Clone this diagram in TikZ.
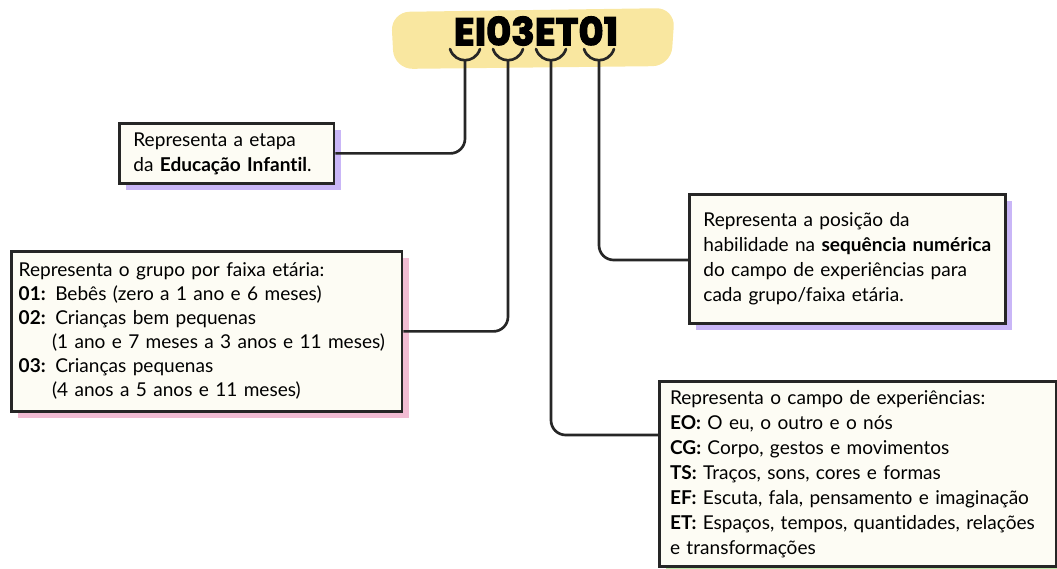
\documentclass[tikz,border=0pt]{standalone}
\usepackage{fontspec}
\setmainfont{Lato}[Ligatures=NoCommon]
\newfontfamily\titlefont[BoldFeatures={FakeBold=3}]{Poppins}
\usetikzlibrary{shadows}

\definecolor{hlyellow}{HTML}{F9E7A0}
\definecolor{boxfill}{HTML}{FDFCF4}
\definecolor{boxline}{HTML}{262626}
\definecolor{shpurple}{HTML}{C9B6F7}
\definecolor{shpink}{HTML}{F2BCD3}
\definecolor{shgreen}{HTML}{BDEBA8}

\tikzset{
	box/.style={draw=boxline, line width=2.1pt, fill=boxfill, anchor=north west,
		align=left, inner ysep=0pt, font=\fontsize{14.3}{18.75}\selectfont},
	boxshadow/.style={drop shadow={shadow xshift=5pt, shadow yshift=-5pt, fill=#1, opacity=1}},
	link/.style={line width=2pt, boxline, rounded corners=11pt},
}

\begin{document}
\begin{tikzpicture}[x=0.75pt, y=-0.75pt]
	
	\useasboundingbox (0,0) rectangle (1057,568);
	
	% code highlight
	\fill[hlyellow, rounded corners=14pt] (391,12) -- (675,8) -- (671,66) -- (394,69) -- cycle;
	\node[font=\titlefont\fontsize{29}{29}\bfseries] (codigo) at (536,31) {EI03ET01};
	
	% brackets under each part of the code
	\foreach \c/\n in {465/ei, 508/gr, 551/ca, 599/nu} {
		\draw[link, line cap=round] (\c-15,49) .. controls (\c-10,64) and (\c+10,64) .. (\c+15,49);
		\coordinate (\n) at (\c,60);
	}
	
	% boxes
	\node[box, boxshadow=shpurple, text width=140pt, inner xsep=10.5pt, minimum height=45pt] (etapa) at (118,122)
		{Representa a etapa\\da \textbf{Educação Infantil}.};
	
	\node[box, boxshadow=shpink, text width=282pt, inner xsep=5.5pt, minimum height=120pt,
		font=\fontsize{14.3}{18}\selectfont] (grupo) at (10,250)
		{Representa o grupo por faixa etária:\\
		 \textbf{01:} Bebês (zero a 1 ano e 6 meses)\\
		 \textbf{02:} Crianças bem pequenas\\
		 \hspace*{25pt}(1 ano e 7 meses a 3 anos e 11 meses)\\
		 \textbf{03:} Crianças pequenas\\
		 \hspace*{25pt}(4 anos a 5 anos e 11 meses)};
	
	\node[box, boxshadow=shpurple, text width=216pt, inner xsep=10.5pt, minimum height=97pt] (posicao) at (688,193)
		{Representa a posição da\\
		 habilidade na \textbf{sequência numérica}\\
		 do campo de experiências para\\
		 cada grupo/faixa etária.};
	
	\node[box, boxshadow=shgreen, text width=282pt, inner xsep=8pt, minimum height=139pt] (campo) at (658,380)
		{Representa o campo de experiências:\\
		 \textbf{EO:} O eu, o outro e o nós\\
		 \textbf{CG:} Corpo, gestos e movimentos\\
		 \textbf{TS:} Traços, sons, cores e formas\\
		 \textbf{EF:} Escuta, fala, pensamento e imaginação\\
		 \textbf{ET:} Espaços, tempos, quantidades, relações\\
		 e transformações};
	
	% connectors
	\draw[link] (ei) |- (etapa.east);
	\draw[link] (gr) |- (grupo.east);
	\draw[link] (ca) |- (campo.west |- 0,435);
	\draw[link] (nu) |- (posicao.west |- 0,260);
	
\end{tikzpicture}
\end{document}
